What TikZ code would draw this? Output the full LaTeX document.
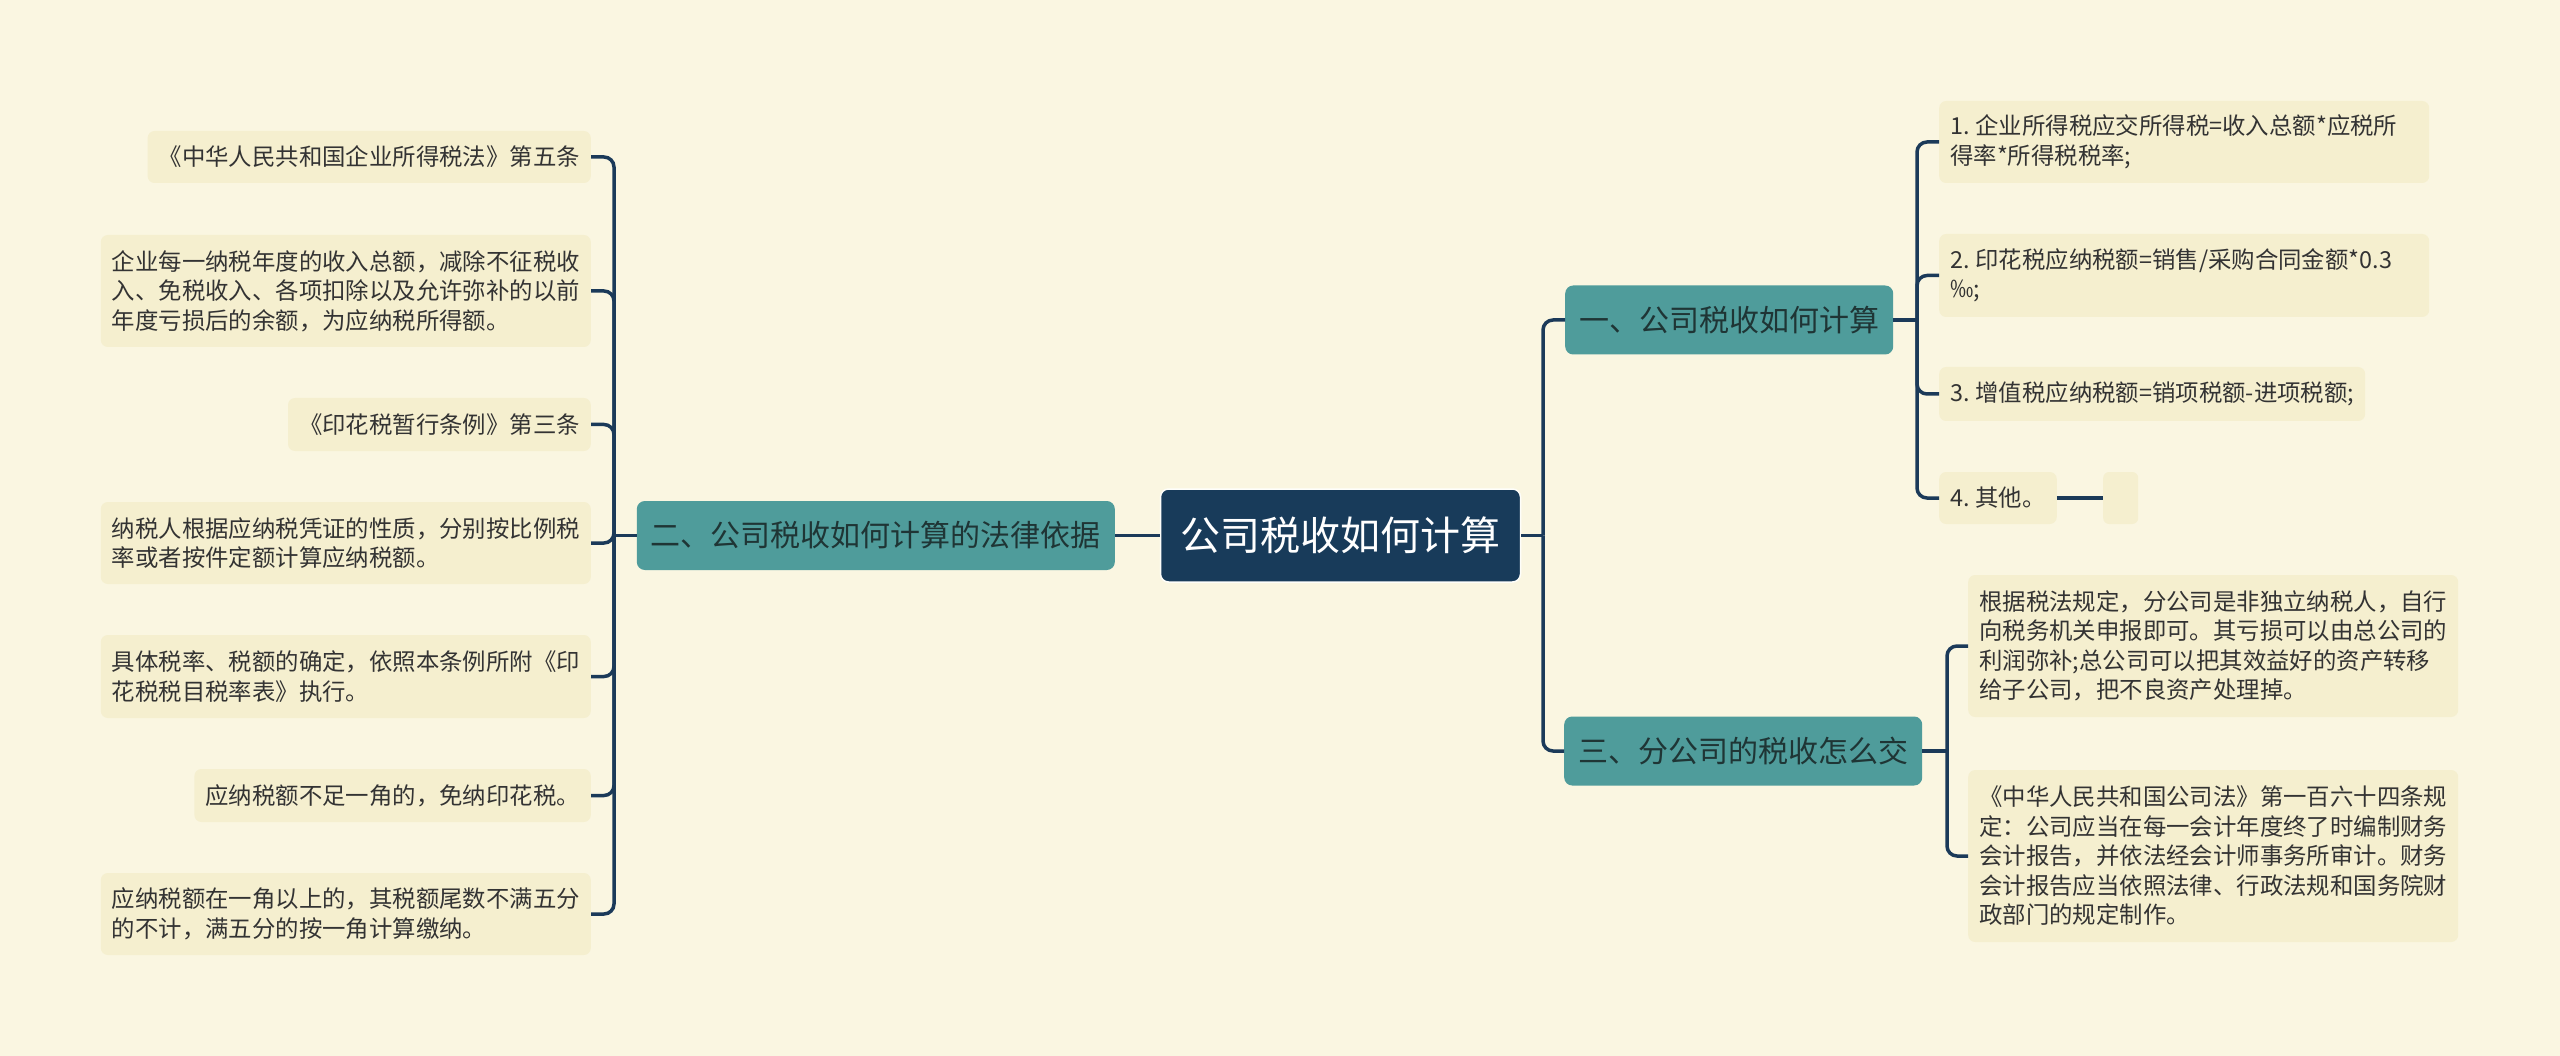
\documentclass[tikz,border=0pt]{standalone}
\usepackage{fontspec}
\setmainfont{Noto Sans CJK SC}
\definecolor{bgc}{HTML}{FAF6E1}
\definecolor{leafc}{HTML}{F5EFCF}
\definecolor{tealc}{HTML}{4F9C9B}
\definecolor{navyc}{HTML}{183B5A}
\definecolor{linec}{HTML}{1B3A59}
\definecolor{txtc}{HTML}{333333}
\definecolor{tealtxt}{HTML}{1F3535}
\newcommand\leaffont{\fontsize{23.4pt}{29.5pt}\selectfont}
\newcommand\mainfont{\fontsize{30pt}{36pt}\selectfont}
\newcommand\rootfont{\fontsize{40pt}{48pt}\selectfont}
\newcommand\numgap{\kern0.25em}
\tikzset{
  conn/.style={draw=linec, line width=3.5pt, rounded corners=10pt},
  leaf/.style={fill=leafc, rounded corners=7pt, inner xsep=11pt, inner ysep=0pt,
    align=left, text=txtc, font=\leaffont},
  wide/.style={text width=468pt},
  branch/.style={fill=tealc, rounded corners=8pt, inner xsep=14pt, inner ysep=0pt,
    minimum height=69pt, text=tealtxt, font=\mainfont},
  rootbox/.style={fill=navyc, draw=white!85!bgc, line width=1.5pt, rounded corners=8pt,
    inner xsep=20pt, inner ysep=0pt, minimum height=93pt, text=white, font=\rootfont},
}
\begin{document}
\begin{tikzpicture}[x=1pt,y=-1pt]
\fill[bgc] (0,0) rectangle (2560,1056);
\useasboundingbox (0,0) rectangle (2560,1056);

% root and branches
\node[rootbox] (C) at (1340.5,535.5) {公司税收如何计算};
\node[branch, anchor=east] (B2) at (1115,535.5) {二、公司税收如何计算的法律依据};
\node[branch, anchor=west] (B1) at (1565,320) {一、公司税收如何计算};
\node[branch, anchor=west] (B3) at (1564,751) {三、分公司的税收怎么交};

% left leaves
\node[leaf, anchor=east, minimum height=52pt] (L1) at (591,157) {《中华人民共和国企业所得税法》第五条};
\node[leaf, wide, anchor=east, minimum height=112pt] (L2) at (591,291) {企业每一纳税年度的收入总额，减除不征税收\\入、免税收入、各项扣除以及允许弥补的以前\\年度亏损后的余额，为应纳税所得额。};
\node[leaf, anchor=east, minimum height=53pt] (L3) at (591,424.5) {《印花税暂行条例》第三条};
\node[leaf, wide, anchor=east, minimum height=82pt] (L4) at (591,543) {纳税人根据应纳税凭证的性质，分别按比例税\\率或者按件定额计算应纳税额。};
\node[leaf, wide, anchor=east, minimum height=83pt] (L5) at (591,676.5) {具体税率、税额的确定，依照本条例所附《印\\花税税目税率表》执行。};
\node[leaf, anchor=east, minimum height=53pt] (L6) at (591,795.5) {应纳税额不足一角的，免纳印花税。};
\node[leaf, wide, anchor=east, minimum height=82pt] (L7) at (591,914) {应纳税额在一角以上的，其税额尾数不满五分\\的不计，满五分的按一角计算缴纳。};

% right leaves of branch 1
\node[leaf, wide, anchor=west, minimum height=82pt] (R1a) at (1939,142) {1.\numgap 企业所得税应交所得税=收入总额*应税所\\得率*所得税税率;};
\node[leaf, wide, anchor=west, minimum height=83pt] (R1b) at (1939,275.5) {2.\numgap 印花税应纳税额=销售/采购合同金额*0.3\\‰;};
\node[leaf, anchor=west, minimum height=54pt] (R1c) at (1939,394) {3.\numgap 增值税应纳税额=销项税额-进项税额;};
\node[leaf, anchor=west, minimum height=52pt] (R1d) at (1939,498) {4.\numgap 其他。};
\node[fill=leafc, rounded corners=6pt, minimum width=35pt, minimum height=52pt, inner sep=0pt, anchor=west] (E) at (2103,498) {};

% right leaves of branch 3
\node[leaf, wide, anchor=west, minimum height=142pt] (R3a) at (1968,646) {根据税法规定，分公司是非独立纳税人，自行\\向税务机关申报即可。其亏损可以由总公司的\\利润弥补;总公司可以把其效益好的资产转移\\给子公司，把不良资产处理掉。};
\node[leaf, wide, anchor=west, minimum height=172pt] (R3b) at (1968,856) {《中华人民共和国公司法》第一百六十四条规\\定：公司应当在每一会计年度终了时编制财务\\会计报告，并依法经会计师事务所审计。财务\\会计报告应当依照法律、行政法规和国务院财\\政部门的规定制作。};

% junction coordinates
\coordinate (lb) at (614,535.5);
\coordinate (rb) at (1543,535.5);
\coordinate (r1b) at (1917,320);
\coordinate (r3b) at (1947,751);

% connectors
\draw[conn] (C.west) -- (B2.east);
\draw[conn] (B2.west) -- (lb);
\foreach \n in {L1,L2,L3,L4,L5,L6,L7} { \draw[conn] (lb) |- (\n.east); }
\draw[conn] (C.east) -- (rb);
\draw[conn] (rb) |- (B1.west);
\draw[conn] (rb) |- (B3.west);
\draw[conn] (B1.east) -- (r1b);
\foreach \n in {R1a,R1b,R1c,R1d} { \draw[conn] (r1b) |- (\n.west); }
\draw[conn] (R1d.east) -- (E.west);
\draw[conn] (B3.east) -- (r3b);
\foreach \n in {R3a,R3b} { \draw[conn] (r3b) |- (\n.west); }
\end{tikzpicture}
\end{document}
